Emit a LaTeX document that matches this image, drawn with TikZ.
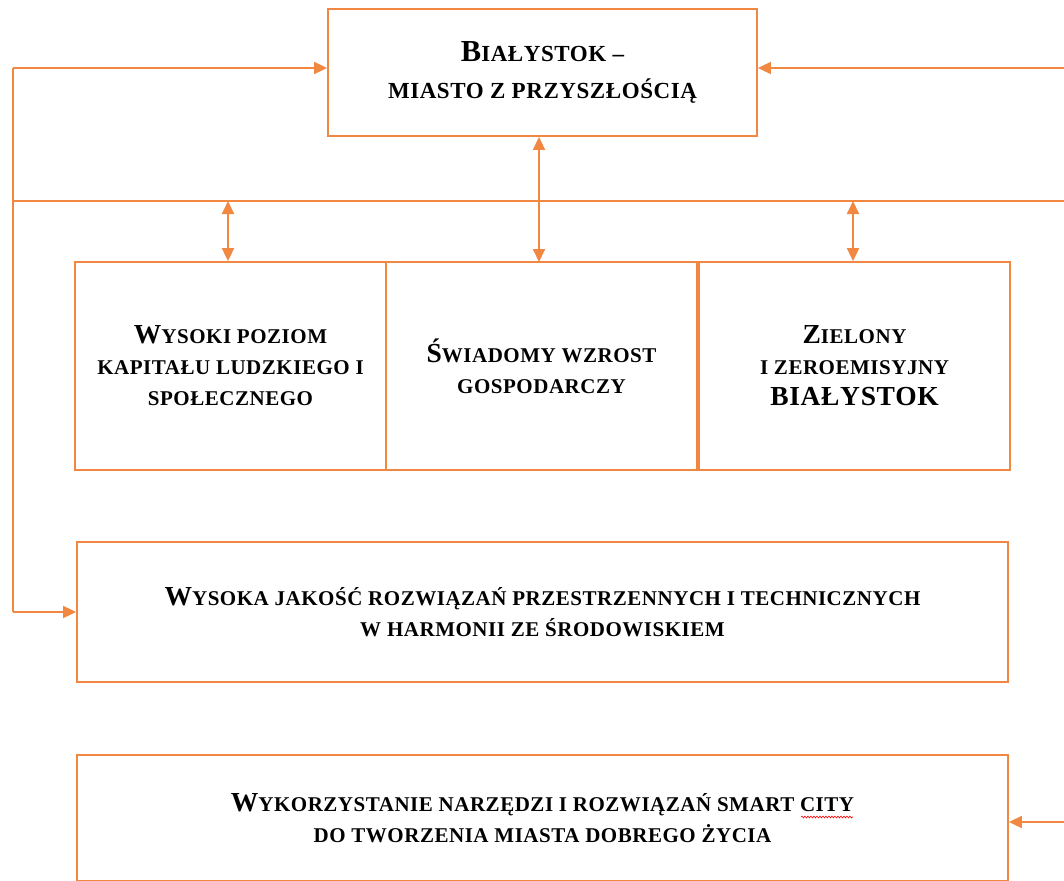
\documentclass[tikz,border=0pt]{standalone}
\usepackage{fontspec}
\setmainfont{Liberation Serif}[LetterSpace=2.5]
\usetikzlibrary{arrows.meta,decorations.pathmorphing}
\definecolor{orng}{RGB}{240,136,66}
\newcommand{\Ini}[1]{{\fontsize{27.5}{31}\selectfont #1}}
\newcommand{\IniT}[1]{{\fontsize{30.5}{31}\selectfont #1}}
\tikzset{
  box/.style={draw=orng, line width=1.8pt, fill=white, align=center, inner sep=0pt,
    font=\bfseries\fontsize{21}{31}\selectfont},
  conn/.style={draw=orng, line width=1.8pt},
  arr/.style={conn, -{Triangle[length=13pt,width=12pt]}},
  darr/.style={conn, {Triangle[length=13pt,width=12pt]}-{Triangle[length=13pt,width=12pt]}},
}
\begin{document}
\begin{tikzpicture}[x=1pt,y=-1pt]
\useasboundingbox (0,0) rectangle (1064,880);
% nodes
\node[box, minimum width=429pt, minimum height=127pt, font=\bfseries\fontsize{23}{37}\selectfont] (top) at (542.5,72.5)
  {\IniT{B}IAŁYSTOK –\\MIASTO Z PRZYSZŁOŚCIĄ};
\node[box, minimum width=311pt, minimum height=208pt] (b1) at (230.5,366)
  {\Ini{W}YSOKI POZIOM\\KAPITAŁU LUDZKIEGO I\\SPOŁECZNEGO};
\node[box, minimum width=311pt, minimum height=208pt] (b2) at (541.5,366)
  {\Ini{Ś}WIADOMY WZROST\\GOSPODARCZY};
\node[box, minimum width=311pt, minimum height=208pt] (b3) at (854.5,366)
  {\Ini{Z}IELONY\\I ZEROEMISYJNY\\\Ini{BIAŁYSTOK}};
\node[box, minimum width=931pt, minimum height=140pt] (b4) at (542.5,612)
  {\Ini{W}YSOKA JAKOŚĆ ROZWIĄZAŃ PRZESTRZENNYCH I TECHNICZNYCH\\W HARMONII ZE ŚRODOWISKIEM};
\node[box, minimum width=931pt, minimum height=126pt] (b5) at (542.5,818)
  {\Ini{W}YKORZYSTANIE NARZĘDZI I ROZWIĄZAŃ SMART CITY\\DO TWORZENIA MIASTA DOBREGO ŻYCIA};
% coordinates
\coordinate (lt) at (13,68);
\coordinate (lb) at (13,612);
\coordinate (hl) at (13,201);
\coordinate (hr) at (1064,201);
\coordinate (rt) at (1064,68);
\coordinate (rb) at (1064,822);
\coordinate (j1) at (228,201);
\coordinate (j2) at (539,262);
\coordinate (j3) at (853,201);
% connectors
\draw[conn] (hl) -- (hr);
\draw[conn] (lt) -- (lb);
\draw[arr] (lt) -- (top.west |- lt);
\draw[arr] (lb) -- (b4.west |- lb);
\draw[arr] (rt) -- (top.east |- rt);
\draw[arr] (rb) -- (b5.east |- rb);
\draw[darr] (j1) -- (j1 |- b1.north);
\draw[darr] (j3) -- (j3 |- b3.north);
\draw[darr] (j2 |- top.south) -- (j2);
% spell-check underline
\draw[red, line width=0.6pt, decorate, decoration={snake, amplitude=0.9pt, segment length=3pt}] (801,817) -- (853,817);
\end{tikzpicture}
\end{document}
